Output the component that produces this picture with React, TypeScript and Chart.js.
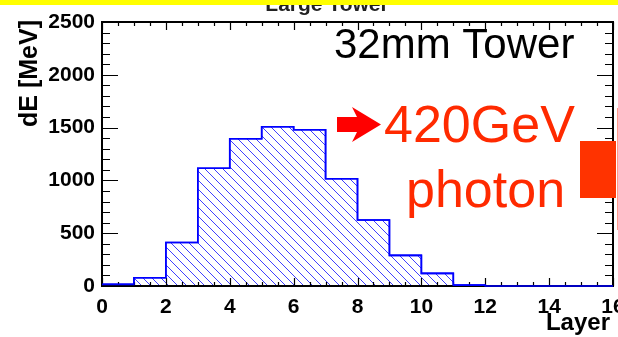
import React, { useEffect, useRef } from "react";
import { Chart, registerables } from "chart.js";

Chart.register(...registerables);

// ---- data ----
const binEdges = [0, 1, 2, 3, 4, 5, 6, 7, 8, 9, 10, 11, 12, 13, 14, 15, 16];
const dEValues = [15, 78, 412, 1115, 1395, 1508, 1480, 1016, 625, 290, 120, 8, 0, 0, 0, 0];
const xMin = 0;
const xMax = 16;
const xMajorStep = 2;
const xMinorStep = 0.5;
const yMin = 0;
const yMax = 2500;
const yMajorStep = 500;
const yMinorStep = 100;
const titleText = "Large Tower";
const xTitle = "Layer";
const yTitle = "dE [MeV]";
const towerLabel = "32mm Tower";
const beamLine1 = "420GeV";
const beamLine2 = "photon";

const FONT = "'Liberation Sans', Arial, Helvetica, sans-serif";

function makeHatch(): CanvasPattern | string {
  const s = 9;
  const c = document.createElement("canvas");
  c.width = s;
  c.height = s;
  const g = c.getContext("2d");
  if (!g) return "rgba(0,0,255,0.2)";
  g.strokeStyle = "#2a2aff";
  g.lineWidth = 0.9;
  g.beginPath();
  g.moveTo(0, 0);
  g.lineTo(s, s);
  g.moveTo(-1, s - 1);
  g.lineTo(1, s + 1);
  g.moveTo(s - 1, -1);
  g.lineTo(s + 1, 1);
  g.stroke();
  const p = g.createPattern(c, "repeat");
  return p || "rgba(0,0,255,0.2)";
}

const decorPlugin = {
  id: "rootDecor",
  afterDatasetsDraw(chart: any) {
    const { ctx, chartArea: a, scales } = chart;
    const x = scales.x;
    const y = scales.y;
    ctx.save();
    ctx.strokeStyle = "#000";
    ctx.lineWidth = 1.2;
    ctx.beginPath();
    for (let v = yMin; v <= yMax + 1e-9; v += yMinorStep) {
      const py = Math.round(y.getPixelForValue(v)) + 0.5;
      const len = v % yMajorStep === 0 ? 16 : 8;
      ctx.moveTo(a.left, py);
      ctx.lineTo(a.left + len, py);
      ctx.moveTo(a.right, py);
      ctx.lineTo(a.right - len, py);
    }
    for (let v = xMin; v <= xMax + 1e-9; v += xMinorStep) {
      const px = Math.round(x.getPixelForValue(v)) + 0.5;
      const len = v % xMajorStep === 0 ? 8 : 4;
      ctx.moveTo(px, a.bottom);
      ctx.lineTo(px, a.bottom - len);
      ctx.moveTo(px, a.top);
      ctx.lineTo(px, a.top + len);
    }
    ctx.stroke();
    ctx.lineWidth = 2;
    ctx.strokeRect(a.left, a.top, a.right - a.left, a.bottom - a.top);
    ctx.restore();

    const meta = chart.getDatasetMeta(0);
    if (meta && meta.dataset) {
      ctx.save();
      meta.dataset.draw(ctx, a);
      ctx.restore();
    }
  },
  afterDraw(chart: any) {
    const { ctx } = chart;
    ctx.save();
    ctx.fillStyle = "#222";
    ctx.font = `bold 21px ${FONT}`;
    ctx.textAlign = "center";
    ctx.textBaseline = "alphabetic";
    ctx.fillText(titleText, 327, 11);
    ctx.fillStyle = "#ffff00";
    ctx.fillRect(0, 0, chart.width, 5);

    ctx.save();
    ctx.translate(37, 73.5);
    ctx.rotate(-Math.PI / 2);
    ctx.fillStyle = "#000";
    ctx.font = `bold 25px ${FONT}`;
    ctx.textAlign = "center";
    ctx.textBaseline = "alphabetic";
    ctx.fillText(yTitle, 0, 0);
    ctx.restore();

    ctx.fillStyle = "#000";
    ctx.font = `bold 24px ${FONT}`;
    ctx.textAlign = "right";
    ctx.textBaseline = "alphabetic";
    ctx.fillText(xTitle, 610, 330);

    ctx.font = `42px ${FONT}`;
    ctx.textAlign = "left";
    ctx.fillText(towerLabel, 334, 58);

    ctx.fillStyle = "#ff0000";
    ctx.beginPath();
    ctx.moveTo(337, 117);
    ctx.lineTo(357, 117);
    ctx.lineTo(352, 107);
    ctx.lineTo(381, 124.5);
    ctx.lineTo(352, 142);
    ctx.lineTo(357, 132);
    ctx.lineTo(337, 132);
    ctx.closePath();
    ctx.fill();

    ctx.fillStyle = "#ff2a00";
    ctx.font = `52px ${FONT}`;
    ctx.textAlign = "left";
    ctx.fillText(beamLine1, 384, 142);
    ctx.fillText(beamLine2, 406, 207);

    ctx.fillStyle = "#ff3300";
    ctx.fillRect(580, 141, 36, 57);
    ctx.strokeStyle = "#ff9a8a";
    ctx.lineWidth = 1;
    ctx.beginPath();
    ctx.moveTo(617.5, 108);
    ctx.lineTo(617.5, 230);
    ctx.stroke();
    ctx.restore();
  },
};

export default function App() {
  const ref = useRef<HTMLCanvasElement>(null);
  useEffect(() => {
    if (!ref.current) return;
    const points = binEdges.map((e, i) => ({
      x: e,
      y: dEValues[Math.min(i, dEValues.length - 1)],
    }));
    const chart = new Chart(ref.current, {
      type: "line",
      data: {
        datasets: [
          {
            data: points,
            stepped: true,
            fill: "origin",
            backgroundColor: makeHatch() as any,
            borderColor: "#0000ff",
            borderWidth: 1.6,
            pointRadius: 0,
            tension: 0,
          },
        ],
      },
      options: {
        responsive: false,
        animation: false,
        devicePixelRatio: 1,
        layout: { padding: { top: 22, right: 5, left: 0, bottom: 0 } },
        plugins: {
          legend: { display: false },
          tooltip: { enabled: false },
          title: { display: false },
        },
        scales: {
          x: {
            type: "linear",
            min: xMin,
            max: xMax,
            ticks: {
              stepSize: xMajorStep,
              autoSkip: false,
              maxRotation: 0,
              padding: 9,
              color: "#000",
              font: { family: FONT, size: 21, weight: "bold" },
              callback: (v: any) => String(v),
            },
            grid: { display: false, drawTicks: false },
            border: { display: false },
            afterFit: (s: any) => {
              s.height = 51;
              s.paddingLeft = 0;
              s.paddingRight = 0;
            },
          },
          y: {
            type: "linear",
            min: yMin,
            max: yMax,
            ticks: {
              stepSize: yMajorStep,
              padding: 7,
              color: "#000",
              font: { family: FONT, size: 21, weight: "bold" },
              callback: (v: any) => String(v),
            },
            grid: { display: false, drawTicks: false },
            border: { display: false },
            afterFit: (s: any) => {
              s.width = 102;
              s.paddingTop = 0;
              s.paddingBottom = 0;
            },
          },
        },
      },
      plugins: [decorPlugin],
    });
    return () => chart.destroy();
  }, []);
  return (
    <div style={{ position: "absolute", left: 0, top: 0, width: 618, height: 337, background: "#fff" }}>
      <canvas ref={ref} width={618} height={337} style={{ display: "block" }} />
    </div>
  );
}
